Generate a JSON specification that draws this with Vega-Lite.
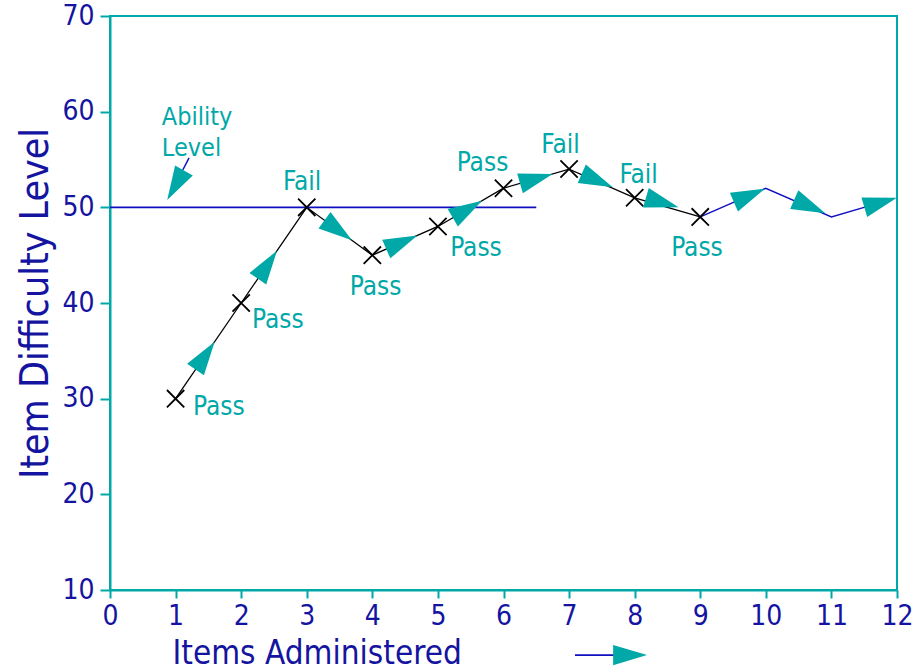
{
  "$schema": "https://vega.github.io/schema/vega-lite/v6.json",
  "width": 787,
  "height": 574,
  "autosize": "none",
  "padding": {"left": 110, "top": 16, "right": 27, "bottom": 81},
  "background": "white",
  "config": {
    "view": {"stroke": "#00a8a8", "strokeWidth": 2},
    "font": "DejaVu Sans",
    "axis": {
      "grid": false,
      "domainColor": "#00a8a8",
      "domainWidth": 2,
      "tickColor": "#00a8a8",
      "tickWidth": 2,
      "labelColor": "#1414a0",
      "titleColor": "#1414a0",
      "labelFont": "DejaVu Sans Condensed, DejaVu Sans",
      "titleFont": "DejaVu Sans Condensed, DejaVu Sans",
      "labelFontSize": 28,
      "labelFlush": false,
      "labelOverlap": false,
      "titleFontWeight": "normal"
    }
  },
  "datasets": {
    "steps": [
      {"item": 1, "level": 30},
      {"item": 2, "level": 40},
      {"item": 3, "level": 50},
      {"item": 4, "level": 45},
      {"item": 5, "level": 48},
      {"item": 6, "level": 52},
      {"item": 7, "level": 54},
      {"item": 8, "level": 51},
      {"item": 9, "level": 49}
    ],
    "future": [
      {"item": 9, "level": 49},
      {"item": 10, "level": 52},
      {"item": 11, "level": 49},
      {"item": 11.55, "level": 50.1}
    ],
    "arrows": [
      {"item": 1.45, "level": 34.5, "dx": 1, "dy": 10},
      {"item": 2.4, "level": 44, "dx": 1, "dy": 10},
      {"item": 3.48, "level": 47.6, "dx": 1, "dy": -5},
      {"item": 4.45, "level": 46.35, "dx": 1, "dy": 3},
      {"item": 5.45, "level": 49.8, "dx": 1, "dy": 4},
      {"item": 6.5, "level": 53, "dx": 1, "dy": 2},
      {"item": 7.43, "level": 52.8, "dx": 1, "dy": -3},
      {"item": 8.42, "level": 50.5, "dx": 1, "dy": -2},
      {"item": 9.75, "level": 51.25, "dx": 1, "dy": 3},
      {"item": 10.67, "level": 50.1, "dx": 1, "dy": -3},
      {"item": 11.75, "level": 50.5, "dx": 1, "dy": 2},
      {"item": 1.0, "level": 52.3, "dx": -0.26, "dy": -3.14},
      {"item": 7.93, "level": 3.2, "dx": 1, "dy": 0}
    ],
    "labels": [
      {"item": 1.66, "level": 29.1, "text": "Pass"},
      {"item": 2.56, "level": 38.2, "text": "Pass"},
      {"item": 2.93, "level": 52.6, "text": "Fail"},
      {"item": 4.05, "level": 41.7, "text": "Pass"},
      {"item": 5.58, "level": 45.8, "text": "Pass"},
      {"item": 5.68, "level": 54.6, "text": "Pass"},
      {"item": 6.87, "level": 56.5, "text": "Fail"},
      {"item": 8.06, "level": 53.4, "text": "Fail"},
      {"item": 8.95, "level": 45.8, "text": "Pass"}
    ]
  },
  "layer": [
    {
      "data": {"values": [{"item": 0, "level": 50}, {"item": 6.5, "level": 50}]},
      "mark": {"type": "line", "color": "#1010c0", "strokeWidth": 1.6},
      "encoding": {
        "x": {"field": "item", "type": "quantitative", "scale": {"domain": [0, 12], "nice": false},
          "axis": {"values": [0,1,2,3,4,5,6,7,8,9,10,11,12], "format": "d", "tickSize": 8, "labelPadding": 4,
            "title": "Items Administered", "titleFontSize": 33, "titleX": 62, "titleY": 63, "titleAlign": "left", "titleBaseline": "middle"}},
        "y": {"field": "level", "type": "quantitative", "scale": {"domain": [10, 70], "nice": false, "zero": false},
          "axis": {"values": [10,20,30,40,50,60,70], "format": "d", "tickSize": 10, "labelPadding": 6,
            "title": "Item Difficulty Level", "titleFontSize": 39, "titleX": -75, "titleY": 287, "titleAlign": "center", "titleBaseline": "middle"}}
      }
    },
    {
      "data": {"name": "steps"},
      "mark": {"type": "line", "color": "black", "strokeWidth": 1.3},
      "encoding": {
        "x": {"field": "item", "type": "quantitative"},
        "y": {"field": "level", "type": "quantitative"}
      }
    },
    {
      "data": {"name": "future"},
      "mark": {"type": "line", "color": "#1010c0", "strokeWidth": 1.5},
      "encoding": {
        "x": {"field": "item", "type": "quantitative"},
        "y": {"field": "level", "type": "quantitative"}
      }
    },
    {
      "data": {"name": "steps"},
      "mark": {"type": "point", "shape": "M-1,-1L1,1M-1,1L1,-1", "size": 300, "stroke": "black", "strokeWidth": 1.8, "filled": false, "opacity": 1},
      "encoding": {
        "x": {"field": "item", "type": "quantitative"},
        "y": {"field": "level", "type": "quantitative"}
      }
    },
    {
      "data": {"values": [{"item": 1.205, "level": 55.16}, {"item": 1.11, "level": 53.9}]},
      "mark": {"type": "line", "color": "#1010c0", "strokeWidth": 1.5},
      "encoding": {
        "x": {"field": "item", "type": "quantitative"},
        "y": {"field": "level", "type": "quantitative"}
      }
    },
    {
      "data": {"values": [{"item": 7.09, "level": 3.2}, {"item": 7.72, "level": 3.2}]},
      "mark": {"type": "line", "color": "#1010c0", "strokeWidth": 1.8, "clip": false},
      "encoding": {
        "x": {"field": "item", "type": "quantitative"},
        "y": {"field": "level", "type": "quantitative"}
      }
    },
    {
      "data": {"name": "arrows"},
      "transform": [
        {"calculate": "atan2(-datum.dy * 574 / 60, datum.dx * 787 / 12) * 180 / PI", "as": "ang"}
      ],
      "mark": {"type": "point", "shape": "M-1,-0.6L1,0L-1,0.6Z", "size": 1150, "filled": true, "fill": "#00a8a8", "stroke": null, "opacity": 1, "clip": false},
      "encoding": {
        "x": {"field": "item", "type": "quantitative"},
        "y": {"field": "level", "type": "quantitative"},
        "angle": {"field": "ang", "type": "quantitative", "scale": null}
      }
    },
    {
      "data": {"name": "labels"},
      "mark": {"type": "text", "color": "#00a8a8", "font": "DejaVu Sans Condensed, DejaVu Sans", "fontSize": 26, "align": "center", "baseline": "middle"},
      "encoding": {
        "x": {"field": "item", "type": "quantitative"},
        "y": {"field": "level", "type": "quantitative"},
        "text": {"field": "text"}
      }
    },
    {
      "data": {"values": [{"item": 0.79, "level": 59.4, "text": ["Ability", "Level"]}]},
      "mark": {"type": "text", "color": "#00a8a8", "font": "DejaVu Sans Condensed, DejaVu Sans", "fontSize": 25, "align": "left", "baseline": "middle", "lineHeight": 31},
      "encoding": {
        "x": {"field": "item", "type": "quantitative"},
        "y": {"field": "level", "type": "quantitative"},
        "text": {"field": "text"}
      }
    }
  ]
}
